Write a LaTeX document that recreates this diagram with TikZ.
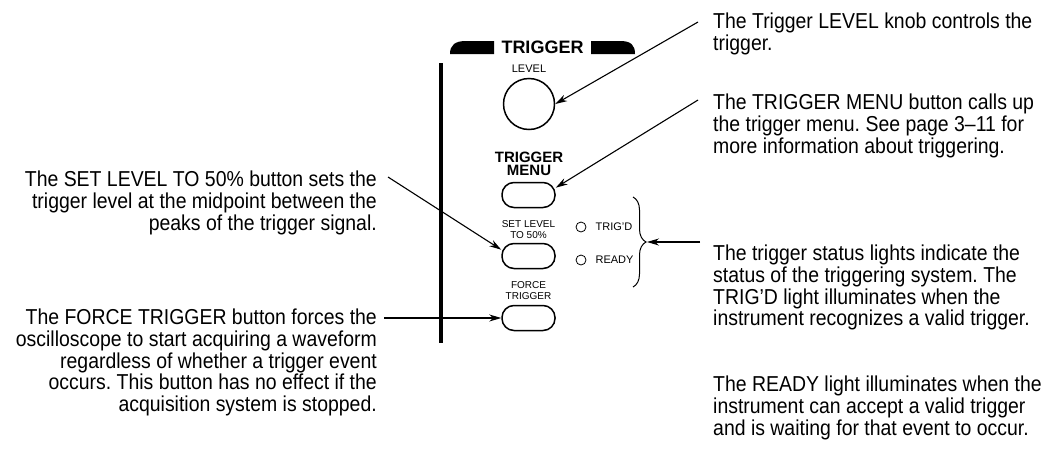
\documentclass[tikz,border=0pt]{standalone}
\usepackage{fontspec}
\setmainfont{Liberation Sans}
\newfontfamily\notefont{Liberation Sans}[FakeStretch=0.9]
\frenchspacing
\usetikzlibrary{arrows.meta, positioning, decorations.pathreplacing}
\tikzset{
	btnbox/.style={draw, line width=1.5pt, rounded corners=12pt, minimum width=53pt, minimum height=25pt, inner sep=0pt},
	paneltxt/.style={font=\fontsize{10}{11}\selectfont, align=center, inner sep=0pt},
	notetxt/.style={font=\notefont\fontsize{21.6}{21.6}\selectfont, inner sep=0pt},
	callout/.style={-{Stealth[length=12pt, width=7pt]}, line width=1.1pt},
}

\begin{document}
\begin{tikzpicture}[
		x=1pt, y=-1pt,
		lamp/.style={draw, circle, line width=0.8pt, minimum size=10pt, inner sep=0pt},
		lamptxt/.style={font=\fontsize{11}{13}\selectfont, inner sep=0pt}
		]
	\useasboundingbox (0,0) rectangle (1044,453);
	% front panel
	\draw[line width=3.5pt] (441,63) -- (441,343);
	\fill (450,54) .. controls (450,45) and (455,41) .. (466,41) -- (494,41) -- (494,54) -- cycle;
	\fill (591,41) -- (620,41) .. controls (631,41) and (635,45) .. (635,54) -- (591,54) -- cycle;
	\node[font=\bfseries\fontsize{18}{20}\selectfont, inner sep=0pt] (hdr) at (542.5,47.5) {TRIGGER};
	\node[paneltxt, font=\fontsize{11}{12}\selectfont] (lvllbl) at (529,69) {LEVEL};
	\node[draw, circle, line width=1.5pt, minimum size=51pt, inner sep=0pt] (knob) at (529,104) {};
	\node[paneltxt, font=\bfseries\fontsize{15}{13}\selectfont] (menulbl) at (529,164) {TRIGGER\\MENU};
	\node[btnbox] (menubtn) at (528.5,195) {};
	\node[paneltxt] (setlbl) at (528.5,230) {SET LEVEL\\TO 50\%};
	\node[btnbox] (setbtn) at (528.5,256) {};
	\node[paneltxt] (forcelbl) at (528.5,291) {FORCE\\TRIGGER};
	\node[btnbox] (forcebtn) at (528.5,318) {};
	\node[lamp] (trigd) at (581,227) {};
	\node[lamptxt, right=9pt of trigd] (trigdlbl) {TRIG’D};
	\node[lamp] (ready) at (581,260) {};
	\node[lamptxt, right=9pt of ready] (readylbl) {READY};
	\coordinate (bracetop) at (633,197);
	\coordinate (bracebot) at (633,287);
	\coordinate (bracetip) at (647,242);
	\draw[decorate, decoration={brace, amplitude=13pt}, line width=1pt] (bracetop) -- (bracebot);
	% notes
	\node[notetxt, anchor=north west, align=left] (lvltxt) at (713,13) {The Trigger LEVEL knob controls the\\trigger.};
	\node[notetxt, anchor=north west, align=left] (menutxt) at (713,94) {The TRIGGER MENU button calls up\\the trigger menu. See page 3–11 for\\more information about triggering.};
	\node[notetxt, anchor=north west, align=left] (statustxt) at (713,245) {The trigger status lights indicate the\\status of the triggering system. The\\TRIG’D light illuminates when the\\instrument recognizes a valid trigger.};
	\node[notetxt, anchor=north west, align=left] (readytxt) at (713,376) {The READY light illuminates when the\\instrument can accept a valid trigger\\and is waiting for that event to occur.};
	\node[notetxt, anchor=north east, align=right] (settxt) at (377,171) {The SET LEVEL TO 50\% button sets the\\trigger level at the midpoint between the\\peaks of the trigger signal.};
	\node[notetxt, anchor=north east, align=right] (forcetxt) at (377,309) {The FORCE TRIGGER button forces the\\oscilloscope to start acquiring a waveform\\regardless of whether a trigger event\\occurs. This button has no effect if the\\acquisition system is stopped.};
	% callouts
	\coordinate (lvlfrom) at (698,22);
	\coordinate (menufrom) at (698,100);
	\coordinate (setfrom) at (388,177);
	\coordinate (forcefrom) at (384,318);
	\coordinate (statusfrom) at (700,242);
	\draw[callout] (lvlfrom) -- (knob.east);
	\draw[callout] (menufrom) -- (menubtn.15);
	\draw[callout] (setfrom) -- (setbtn.167);
	\draw[callout] (forcefrom) -- (forcebtn.west);
	\draw[callout] (statusfrom) -- (bracetip);
\end{tikzpicture}
\end{document}
